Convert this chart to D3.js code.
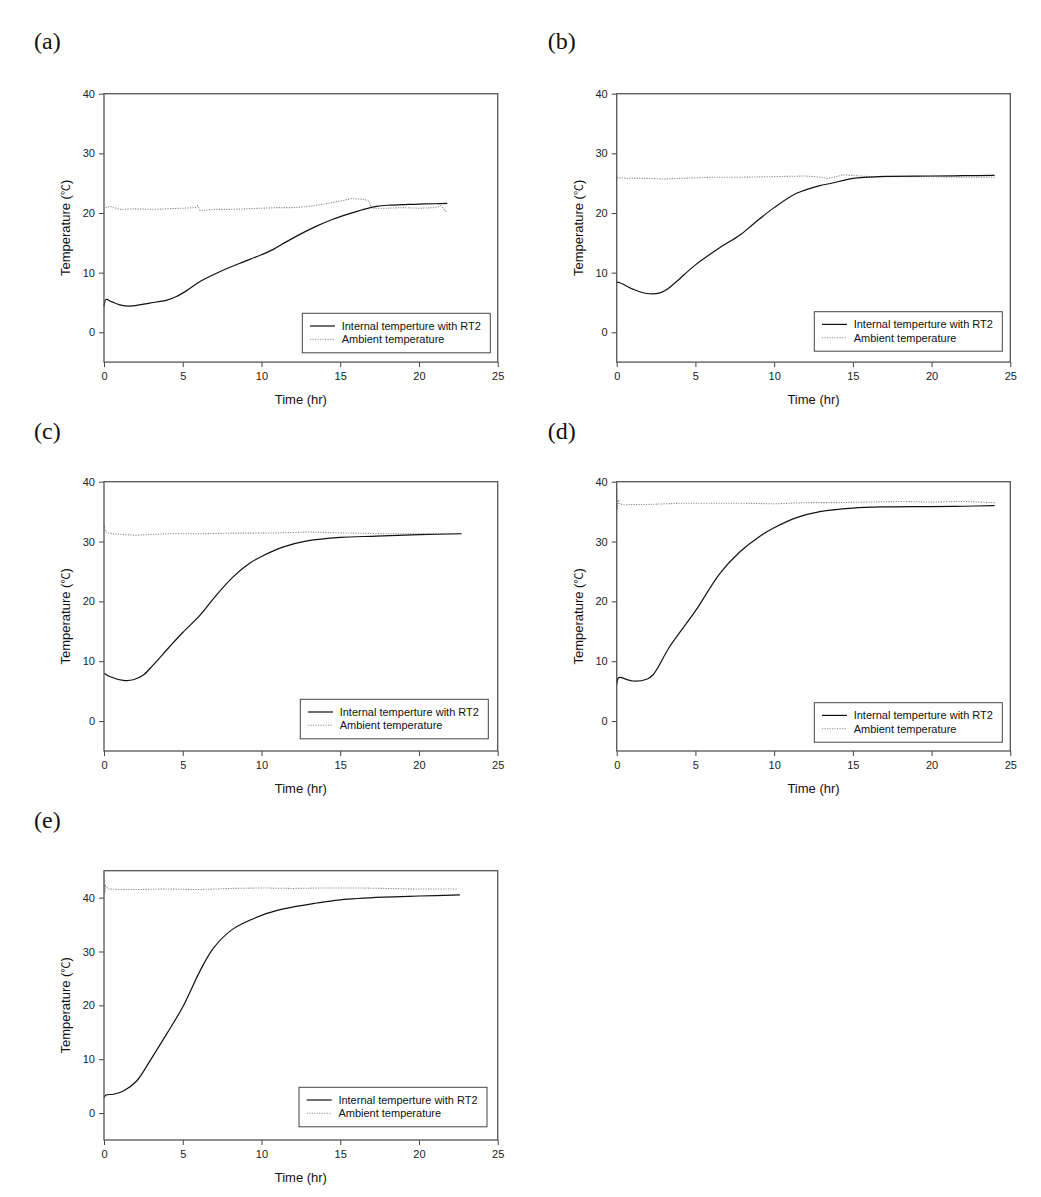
<!DOCTYPE html>
<html><head><meta charset="utf-8">
<script src="https://cdn.jsdelivr.net/npm/d3@7"></script>
<style>body{margin:0;background:#fff}</style>
</head><body>
<svg id="chart" width="1041" height="1197"></svg>
<script>
// ---------- DATA ----------
const panelLabels = ["(a)", "(b)", "(c)", "(d)", "(e)"];
const xTicks = [0, 5, 10, 15, 20, 25];
const yTicksStd = [0, 10, 20, 30, 40];
const yDomains = [[-5, 40], [-5, 40], [-5, 40], [-5, 40], [-5, 45]];
const xDomain = [0, 25];
const seriesNames = ["Internal temperture with RT2", "Ambient temperature"];
const xTitle = "Time (hr)";
const yTitleMain = "Temperature (";
const yTitleUnit = "\u2103";
const yTitleEnd = ")";

const internalA = [[0,4.3],[0.13,5.5],[0.5,5.1],[1,4.6],[1.65,4.4],[2.9,4.9],[4,5.4],[4.6,6.0],[5.2,6.9],[6.1,8.5],[7.15,9.9],[8,10.9],[8.85,11.8],[10,13.0],[10.75,13.9],[11.6,15.2],[12.5,16.5],[13.5,17.8],[14.5,18.9],[15.5,19.8],[16.5,20.6],[17.3,21.1],[18,21.3],[19,21.4],[20,21.5],[21,21.55],[21.8,21.6]];
const ambientA = [[0.1,20.9],[0.4,21.1],[1,20.6],[2,20.7],[3,20.6],[4,20.7],[5,20.8],[5.8,20.9],[5.95,21.2],[6.1,20.4],[7,20.6],[8,20.6],[9,20.7],[10,20.8],[11,20.9],[12,20.9],[13,21.1],[14,21.5],[15,22.0],[15.7,22.4],[16.5,22.3],[16.8,22.0],[17.0,20.8],[18,20.8],[19,20.9],[20,20.8],[21,20.9],[21.4,21.2],[21.7,20.3],[21.8,20.5]];

const internalB = [[0,8.4],[0.2,8.3],[1.05,7.2],[1.9,6.5],[2.75,6.6],[3.2,7.2],[3.8,8.5],[5,11.3],[6.56,14.2],[7.83,16.3],[8.7,18.2],[10,20.9],[11.43,23.3],[12.9,24.6],[13.5,24.9],[15,25.8],[16,26.0],[17.1,26.15],[19.9,26.2],[22,26.25],[24,26.3]];
const ambientB = [[0,25.9],[1,25.8],[2,25.8],[3,25.7],[4,25.8],[5,25.9],[6,26.0],[8,26.0],[10,26.1],[12,26.2],[13,26.0],[13.4,25.8],[13.8,26.0],[14.4,26.4],[15,26.3],[16,26.1],[18,26.1],[20,26.1],[22,26.0],[24,26.0]];

const internalC = [[0,8.0],[0.4,7.4],[1.23,6.8],[1.86,6.9],[2.5,7.7],[3.13,9.4],[4.19,12.5],[5,14.8],[6.1,17.7],[7.15,21.1],[8.2,24.1],[9.27,26.4],[10,27.5],[11.4,29.1],[12.9,30.1],[15,30.7],[17.3,30.9],[20,31.15],[22.7,31.3]];
const ambientC = [[0,32.8],[0.1,31.6],[0.5,31.3],[1,31.2],[2,31.05],[3,31.2],[4,31.3],[6,31.3],[8,31.4],[10,31.4],[12,31.5],[13,31.6],[14,31.5],[16,31.4],[18,31.3],[20,31.3],[22,31.3],[22.7,31.3]];

const internalD = [[0,6.1],[0.1,7.2],[0.2,7.3],[1.05,6.7],[1.9,7.0],[2.3,7.7],[3.38,12.5],[5,18.4],[6.56,24.7],[7.83,28.3],[9.1,30.9],[10,32.3],[11.43,34.0],[12.9,35.0],[15,35.6],[17.1,35.8],[19.9,35.85],[22,35.9],[24,36.0]];
const ambientD = [[0,38.9],[0.05,35.3],[0.1,37.0],[0.2,36.3],[0.5,36.1],[1,36.2],[2,36.2],[4,36.4],[6,36.4],[8,36.4],[10,36.3],[12,36.5],[14,36.5],[16,36.6],[18,36.7],[20,36.6],[22,36.7],[24,36.5]];

const internalE = [[0,2.85],[0.13,3.35],[0.6,3.5],[1.23,4.1],[2.07,5.96],[2.92,9.7],[3.98,14.7],[5,19.7],[6.1,26.4],[6.94,30.6],[8.2,34.2],[10,36.7],[11.4,37.9],[13.5,39.0],[15,39.6],[17.75,40.1],[20,40.3],[22.6,40.5]];
const ambientE = [[0,44.7],[0.05,40.8],[0.1,42.2],[0.3,41.6],[1,41.5],[2,41.5],[4,41.6],[6,41.5],[8,41.7],[10,41.8],[12,41.7],[14,41.8],[16,41.8],[18,41.7],[20,41.6],[22.5,41.6]];

const internalSeries = [internalA, internalB, internalC, internalD, internalE];
const ambientSeries = [ambientA, ambientB, ambientC, ambientD, ambientE];

// ---------- LAYOUT ----------
const layout = [
  {x0:104,   y0:93.7,  w:393.7, h:268.4, lab:[34,49],    leg:[302.3,313.3]},
  {x0:616.7, y0:93.7,  w:393.6, h:268.4, lab:[547.7,49], leg:[814.3,311.7]},
  {x0:104,   y0:481.7, w:393.7, h:269.3, lab:[34,439],   leg:[300.3,699.3]},
  {x0:616.7, y0:481.7, w:393.6, h:269.3, lab:[547.7,439],leg:[814.3,702.7]},
  {x0:104,   y0:870.7, w:393.7, h:269.3, lab:[34,828],   leg:[299,1087.3]}
];
const FONT = "'Liberation Sans', Arial, sans-serif";
const svg = d3.select("#chart");

layout.forEach((L, i) => {
  const g = svg.append("g");
  const x = d3.scaleLinear().domain(xDomain).range([L.x0, L.x0 + L.w]);
  const y = d3.scaleLinear().domain(yDomains[i]).range([L.y0 + L.h, L.y0]);

  g.append("text").attr("x", L.lab[0]).attr("y", L.lab[1])
    .attr("font-family", "'Liberation Serif', 'Times New Roman', serif")
    .attr("font-size", 24).attr("fill", "#111").text(panelLabels[i]);

  const ax = g.append("g").attr("transform", `translate(0,${L.y0 + L.h})`)
    .call(d3.axisBottom(x).tickValues(xTicks).tickSize(5).tickPadding(5).tickFormat(d3.format("d")));
  const ay = g.append("g").attr("transform", `translate(${L.x0},0)`)
    .call(d3.axisLeft(y).tickValues(yTicksStd).tickSize(5).tickPadding(4).tickFormat(d3.format("d")));
  [ax, ay].forEach(a => {
    a.select(".domain").remove();
    a.selectAll("line").attr("stroke", "#444").attr("stroke-width", 1);
    a.selectAll("text").attr("font-family", FONT).attr("font-size", 11).attr("fill", "#222");
  });

  g.append("path").datum(ambientSeries[i])
    .attr("d", d3.line().x(d => x(d[0])).y(d => y(d[1])).curve(d3.curveLinear))
    .attr("fill", "none").attr("stroke", "#8a8a8a").attr("stroke-width", 1.1)
    .attr("stroke-dasharray", "1.2,1.3");
  g.append("path").datum(internalSeries[i])
    .attr("d", d3.line().x(d => x(d[0])).y(d => y(d[1])).curve(d3.curveCatmullRom.alpha(0.5)))
    .attr("fill", "none").attr("stroke", "#111").attr("stroke-width", 1.2);

  g.append("rect").attr("x", L.x0).attr("y", L.y0).attr("width", L.w).attr("height", L.h)
    .attr("fill", "none").attr("stroke", "#555").attr("stroke-width", 1.3);

  g.append("text").attr("x", L.x0 + L.w / 2).attr("y", L.y0 + L.h + 42)
    .attr("text-anchor", "middle").attr("font-family", FONT).attr("font-size", 13)
    .attr("fill", "#111").text(xTitle);
  const yt = g.append("text")
    .attr("transform", `translate(${L.x0 - 34},${L.y0 + L.h / 2}) rotate(-90)`)
    .attr("text-anchor", "middle").attr("font-family", FONT).attr("font-size", 13)
    .attr("fill", "#111");
  yt.append("tspan").text(yTitleMain);
  yt.append("tspan").attr("font-family", "'Noto Sans CJK KR', 'Noto Sans CJK SC', sans-serif")
    .attr("font-size", 11).text(yTitleUnit);
  yt.append("tspan").text(yTitleEnd);

  const lg = g.append("g").attr("transform", `translate(${L.leg[0]},${L.leg[1]})`);
  lg.append("rect").attr("width", 188).attr("height", 39.5)
    .attr("fill", "#fff").attr("stroke", "#444").attr("stroke-width", 1);
  const styles = [
    {stroke: "#111", dash: null, w: 1.2},
    {stroke: "#8a8a8a", dash: "1.2,1.3", w: 1.1}
  ];
  seriesNames.forEach((name, k) => {
    const cy = 12.7 + k * 13.3;
    lg.append("line").attr("x1", 7.7).attr("x2", 32.7).attr("y1", cy).attr("y2", cy)
      .attr("stroke", styles[k].stroke).attr("stroke-width", styles[k].w)
      .attr("stroke-dasharray", styles[k].dash);
    lg.append("text").attr("x", 39.4).attr("y", cy).attr("dy", "0.36em")
      .attr("font-family", FONT).attr("font-size", 11).attr("fill", "#111").text(name);
  });
});
</script>
</body></html>
